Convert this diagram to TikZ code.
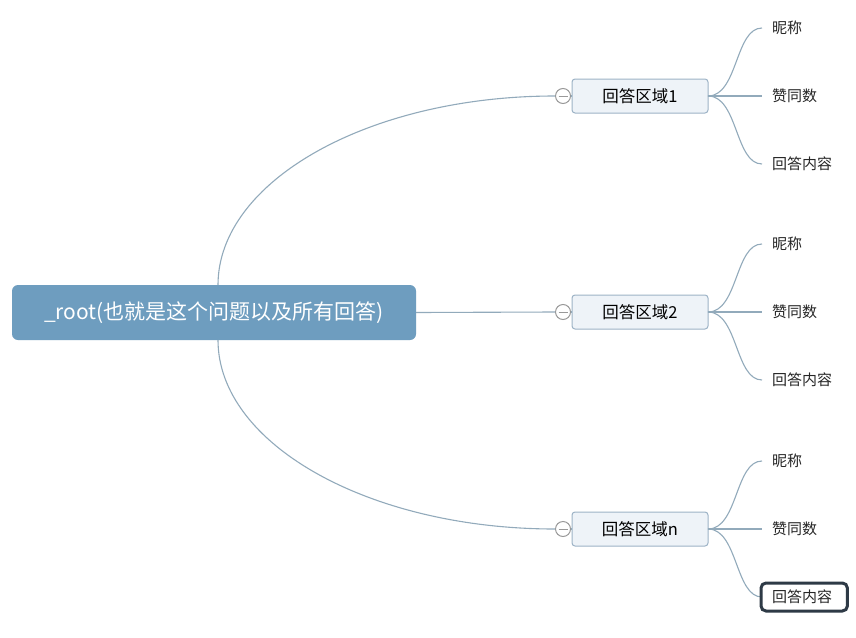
\documentclass[tikz,border=0pt]{standalone}
\usepackage{fontspec}
\setmainfont{Noto Sans CJK SC}
\begin{document}
\begin{tikzpicture}[x=1pt,y=-1pt,
  conn/.style={draw=linec, line width=1.1pt},
  rootbox/.style={fill=rootc, rounded corners=6pt, minimum width=404pt, minimum height=55pt, text=white, font=\fontsize{21}{25}\selectfont, inner sep=0pt},
  branchbox/.style={fill=boxc, draw=boxb, line width=1pt, rounded corners=3pt, minimum width=136pt, minimum height=34pt, font=\fontsize{16.5}{19}\selectfont, inner sep=0pt},
  leaf/.style={anchor=west, font=\fontsize{15}{18}\selectfont, inner sep=0pt, text=black!85},
  collapse/.style={circle, draw=gray!80, fill=white, line width=1pt, minimum size=15pt, inner sep=0pt, path picture={\draw[gray!80, line width=1pt] ([xshift=-4.5pt]path picture bounding box.center) -- ([xshift=4.5pt]path picture bounding box.center);}},
  sel/.style={draw=selc, line width=3pt, rounded corners=5pt}
]
\definecolor{linec}{HTML}{92AABB}
\definecolor{rootc}{HTML}{6E9DBF}
\definecolor{boxc}{HTML}{EEF3F8}
\definecolor{boxb}{HTML}{9DB3C6}
\definecolor{selc}{HTML}{2E3A46}
\useasboundingbox[fill=white] (0,0) rectangle (856,637);

\node[rootbox] (root) at (214,312.5) {\_root(也就是这个问题以及所有回答)};
\coordinate (rt) at (218,285);
\coordinate (rb) at (218,340);

\foreach \i/\y/\lab in {1/96/回答区域1, 2/312/回答区域2, 3/529/回答区域n}{
  \node[branchbox] (b\i) at (640,\y) {\lab};
  \node[collapse] (c\i) at (563,\y) {};
  \coordinate (o\i) at (708,\y);
  \node[leaf] (l\i a) at (772,\y-68) {昵称};
  \node[leaf] (l\i b) at (772,\y) {赞同数};
  \node[leaf] (l\i c) at (772,\y+68) {回答内容};
  \coordinate (e\i a) at (762,\y-68);
  \coordinate (e\i b) at (762,\y);
  \coordinate (e\i c) at (762,\y+68);
  \draw[conn] (o\i) .. controls (738,\y) and (735,\y-68) .. (e\i a);
  \draw[conn] (o\i) -- (e\i b);
  \draw[conn] (o\i) .. controls (738,\y) and (735,\y+68) .. (e\i c);
}

\draw[conn] (rt) .. controls (218,181) and (369,96) .. (c1.west);
\draw[conn] (root.east) -- (c2.west);
\draw[conn] (rb) .. controls (218,444) and (369,529) .. (c3.west);
\draw[conn] (c1.east) -- (b1.west);
\draw[conn] (c2.east) -- (b2.west);
\draw[conn] (c3.east) -- (b3.west);

\draw[sel] ([xshift=-11pt,yshift=-14pt]l3c.west) rectangle ([xshift=15pt,yshift=14pt]l3c.east);
\end{tikzpicture}
\end{document}
